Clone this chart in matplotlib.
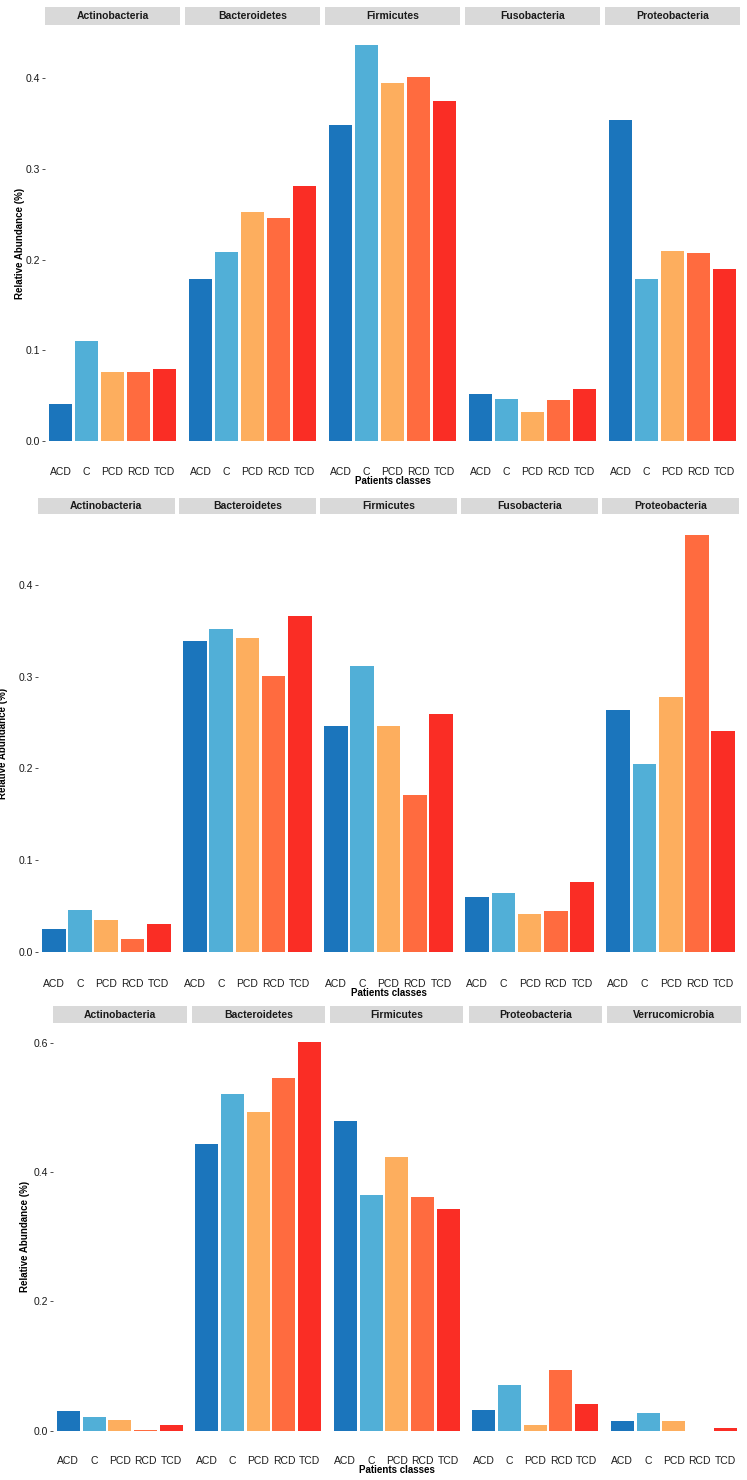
import matplotlib
matplotlib.use("Agg")
import matplotlib.pyplot as plt

plt.rcParams['font.family'] = ['Liberation Sans', 'DejaVu Sans']

W, H = 747, 1480

classes = ["ACD", "C", "PCD", "RCD", "TCD"]
class_colors = ["#1B75BC", "#51AFD7", "#FDAE5E", "#FF6B3F", "#FA2D25"]

# panel 1
phyla_1 = ["Actinobacteria", "Bacteroidetes", "Firmicutes", "Fusobacteria", "Proteobacteria"]
vals_1 = [
    [0.0415, 0.110, 0.076, 0.076, 0.079],
    [0.179, 0.208, 0.252, 0.246, 0.2815],
    [0.348, 0.4367, 0.395, 0.4015, 0.375],
    [0.0525, 0.046, 0.032, 0.045, 0.057],
    [0.354, 0.179, 0.209, 0.207, 0.190],
]
yticks_1 = [0.0, 0.1, 0.2, 0.3, 0.4]

# panel 2
phyla_2 = ["Actinobacteria", "Bacteroidetes", "Firmicutes", "Fusobacteria", "Proteobacteria"]
vals_2 = [
    [0.025, 0.0464, 0.0345, 0.0145, 0.0305],
    [0.339, 0.352, 0.342, 0.3006, 0.366],
    [0.246, 0.3115, 0.246, 0.171, 0.259],
    [0.060, 0.064, 0.042, 0.0446, 0.0765],
    [0.2636, 0.2053, 0.2774, 0.4544, 0.2404],
]
yticks_2 = [0.0, 0.1, 0.2, 0.3, 0.4]

# panel 3
phyla_3 = ["Actinobacteria", "Bacteroidetes", "Firmicutes", "Proteobacteria", "Verrucomicrobia"]
vals_3 = [
    [0.030, 0.0207, 0.0165, 0.001, 0.0088],
    [0.4436, 0.5205, 0.4931, 0.5458, 0.601],
    [0.4787, 0.3646, 0.424, 0.3615, 0.3429],
    [0.032, 0.0707, 0.0083, 0.0945, 0.0413],
    [0.015, 0.0268, 0.015, 0.0, 0.0046],
]
yticks_3 = [0.0, 0.2, 0.4, 0.6]


def rect(x0, y0, x1, y1):
    return [x0 / W, 1 - y1 / H, (x1 - x0) / W, (y1 - y0) / H]


fig = plt.figure(figsize=(W / 100, H / 100), dpi=100)


def draw_panel(phyla, vals, yticks, left, fw, gap, strip_top, top, bottom, ylab_x):
    m = max(max(v) for v in vals)
    for i, (name, v) in enumerate(zip(phyla, vals)):
        x0 = left + i * (fw + gap)
        # strip
        sax = fig.add_axes(rect(x0, strip_top, x0 + fw, top))
        sax.set_facecolor("#D9D9D9")
        sax.set_xticks([])
        sax.set_yticks([])
        for s in sax.spines.values():
            s.set_visible(False)
        sax.text(0.5, 0.5, name, ha="center", va="center", fontsize=7.5,
                 fontweight="bold", color="#1A1A1A", transform=sax.transAxes)
        ax = fig.add_axes(rect(x0, top, x0 + fw, bottom))
        ax.bar(range(len(classes)), v, width=0.9, color=class_colors)
        ax.set_xlim(-0.6, len(classes) - 0.4)
        ax.set_ylim(-0.05 * m, 1.05 * m)
        for s in ax.spines.values():
            s.set_visible(False)
        ax.set_xticks(range(len(classes)))
        ax.set_xticklabels(classes, fontsize=7.5, color="#1A1A1A")
        ax.tick_params(axis="x", length=0, pad=4)
        ax.set_yticks(yticks)
        if i == 0:
            ax.set_yticklabels([f"{t:.1f}" for t in yticks], fontsize=7.5, color="#1A1A1A")
            ax.tick_params(axis="y", length=2.5, width=0.6, color="#333333", pad=1)
        else:
            ax.tick_params(axis="y", length=0, labelleft=False)
    cx = (left + left + 5 * fw + 4 * gap) / 2
    fig.text(cx / W, 1 - (bottom + 20) / H, "Patients classes", ha="center", va="center",
             fontsize=7, fontweight="bold", color="black")
    fig.text(ylab_x / W, 1 - ((top + bottom) / 2) / H, "Relative Abundance (%)",
             rotation=90, ha="center", va="center", fontsize=7, fontweight="bold", color="black")


draw_panel(phyla_1, vals_1, yticks_1, 45, 135, 5, 7, 25, 461, 20)
draw_panel(phyla_2, vals_2, yticks_2, 38, 136.6, 4.5, 498, 514, 973, 3)
draw_panel(phyla_3, vals_3, yticks_3, 53, 133.5, 5, 1006, 1023, 1450, 25)

fig.savefig("out.png", dpi=100)
